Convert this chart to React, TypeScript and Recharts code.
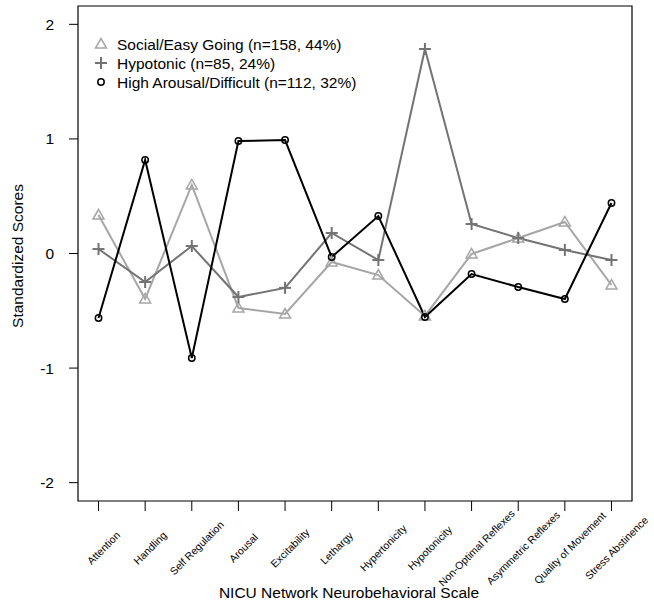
import React from 'react';
import { LineChart, Line, XAxis, YAxis, ReferenceArea, Legend, Label } from 'recharts';

const categories = [
  'Attention',
  'Handling',
  'Self Regulation',
  'Arousal',
  'Excitability',
  'Lethargy',
  'Hypertonicity',
  'Hypotonicity',
  'Non-Optimal Reflexes',
  'Asymmetric Reflexes',
  'Quality of Movement',
  'Stress Abstinence',
];

const socialEasy = [0.336, -0.397, 0.598, -0.476, -0.528, -0.074, -0.188, -0.545, -0.004, 0.135, 0.275, -0.275];
const hypotonic = [0.039, -0.249, 0.065, -0.38, -0.3, 0.179, -0.057, 1.785, 0.257, 0.135, 0.031, -0.057];
const highArousal = [-0.563, 0.816, -0.912, 0.982, 0.99, -0.031, 0.327, -0.554, -0.179, -0.292, -0.397, 0.441];

const yTicks = [-2, -1, 0, 1, 2];
const xTicks = categories.map((_, i) => i + 1);

const legendLabels = [
  'Social/Easy Going (n=158, 44%)',
  'Hypotonic (n=85, 24%)',
  'High Arousal/Difficult (n=112, 32%)',
];

const xAxisTitle = 'NICU Network Neurobehavioral Scale';
const yAxisTitle = 'Standardized Scores';

const data = categories.map((c, i) => ({
  x: i + 1,
  name: c,
  social: socialEasy[i],
  hypo: hypotonic[i],
  high: highArousal[i],
}));

const FONT = '"Liberation Sans", Arial, Helvetica, sans-serif';
const C_SOCIAL = '#a6a6a6';
const C_HYPO = '#737373';
const C_HIGH = '#000000';

const X_DOMAIN: [number, number] = [0.56, 12.44];
const Y_DOMAIN: [number, number] = [-2.16, 2.16];

function Triangle({ cx, cy, color }: { cx: number; cy: number; color: string }) {
  return (
    <polygon
      points={`${cx},${cy - 5.5} ${cx - 5.5},${cy + 4} ${cx + 5.5},${cy + 4}`}
      fill="none"
      stroke={color}
      strokeWidth={1.5}
    />
  );
}

function Plus({ cx, cy, color }: { cx: number; cy: number; color: string }) {
  return (
    <g stroke={color} strokeWidth={2}>
      <line x1={cx - 6} y1={cy} x2={cx + 6} y2={cy} />
      <line x1={cx} y1={cy - 6} x2={cx} y2={cy + 6} />
    </g>
  );
}

function Circle({ cx, cy, color }: { cx: number; cy: number; color: string }) {
  return <circle cx={cx} cy={cy} r={3.2} fill="none" stroke={color} strokeWidth={1.5} />;
}

const triDot = (p: any) => (
  <g key={`t-${p.index}`}>
    <Triangle cx={p.cx} cy={p.cy} color={C_SOCIAL} />
  </g>
);
const plusDot = (p: any) => (
  <g key={`p-${p.index}`}>
    <Plus cx={p.cx} cy={p.cy} color={C_HYPO} />
  </g>
);
const circDot = (p: any) => (
  <g key={`c-${p.index}`}>
    <Circle cx={p.cx} cy={p.cy} color={C_HIGH} />
  </g>
);

const XTick = (props: any) => {
  const { x, y, payload } = props;
  const label = categories[payload.value - 1];
  return (
    <g transform={`translate(${x + 5},${y + 37})`}>
      <text
        transform="rotate(-45)"
        textAnchor="middle"
        dy="0.35em"
        fontSize={10.5}
        fontFamily={FONT}
        fill="#000"
      >
        {label}
      </text>
    </g>
  );
};

const renderLegend = () => {
  const symbols = [
    (cy: number) => <Triangle cx={11} cy={cy} color={C_SOCIAL} />,
    (cy: number) => <Plus cx={11} cy={cy} color={C_HYPO} />,
    (cy: number) => <Circle cx={11} cy={cy} color={C_HIGH} />,
  ];
  return (
    <svg width={320} height={66} style={{ display: 'block' }}>
      {legendLabels.map((l, i) => {
        const cy = 11 + i * 19;
        return (
          <g key={l}>
            {symbols[i](cy)}
            <text x={27} y={cy} dy="0.36em" fontSize={15.5} fontFamily={FONT} fill="#000">
              {l}
            </text>
          </g>
        );
      })}
    </svg>
  );
};

export default function App() {
  return (
    <div style={{ position: 'absolute', left: 0, top: 0, width: 654, height: 609, background: '#fff' }}>
      <LineChart
        width={654}
        height={609}
        data={data}
        margin={{ top: 6, right: 22, bottom: 0, left: 0 }}
      >
        <XAxis
          type="number"
          dataKey="x"
          domain={X_DOMAIN}
          ticks={xTicks}
          interval={0}
          allowDataOverflow
          axisLine={false}
          tickLine={{ stroke: '#000' }}
          stroke="#000"
          tickSize={10}
          tickMargin={0}
          height={108}
          tick={<XTick />}
        >
          <Label
            content={(props: any) => {
              const vb = props.viewBox || { x: 78, y: 501, width: 554 };
              return (
                <text
                  x={vb.x + vb.width / 2 - 6}
                  y={598}
                  textAnchor="middle"
                  fontSize={15.5}
                  fontFamily={FONT}
                  fill="#000"
                >
                  {xAxisTitle}
                </text>
              );
            }}
          />
        </XAxis>
        <YAxis
          type="number"
          domain={Y_DOMAIN}
          ticks={yTicks}
          allowDataOverflow
          axisLine={false}
          tickLine={{ stroke: '#000' }}
          stroke="#000"
          tickSize={9}
          tickMargin={15}
          width={78}
          tick={{ fontSize: 15.5, fill: '#000', fontFamily: FONT }}
        >
          <Label
            content={() => (
              <text
                x={23}
                y={256}
                transform="rotate(-90, 23, 256)"
                textAnchor="middle"
                fontSize={15.5}
                fontFamily={FONT}
                fill="#000"
              >
                {yAxisTitle}
              </text>
            )}
          />
        </YAxis>
        <ReferenceArea
          x1={X_DOMAIN[0]}
          x2={X_DOMAIN[1]}
          y1={Y_DOMAIN[0]}
          y2={Y_DOMAIN[1]}
          fill="none"
          fillOpacity={0}
          stroke="#000"
          strokeWidth={1.2}
          ifOverflow="visible"
        />
        <Legend
          layout="vertical"
          align="center"
          verticalAlign="middle"
          content={renderLegend}
          wrapperStyle={{ position: 'absolute', left: 90, top: 33, width: 320, height: 66 }}
        />
        <Line
          type="linear"
          dataKey="social"
          stroke={C_SOCIAL}
          strokeWidth={2}
          dot={triDot}
          activeDot={false}
          isAnimationActive={false}
        />
        <Line
          type="linear"
          dataKey="hypo"
          stroke={C_HYPO}
          strokeWidth={2}
          dot={plusDot}
          activeDot={false}
          isAnimationActive={false}
        />
        <Line
          type="linear"
          dataKey="high"
          stroke={C_HIGH}
          strokeWidth={2}
          dot={circDot}
          activeDot={false}
          isAnimationActive={false}
        />
      </LineChart>
    </div>
  );
}
